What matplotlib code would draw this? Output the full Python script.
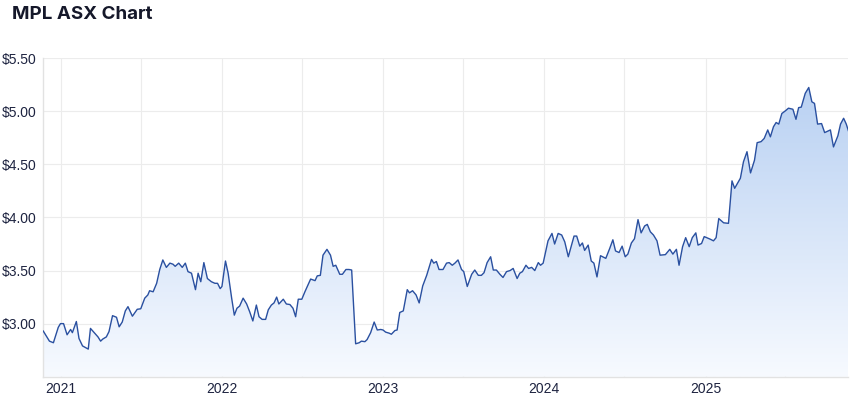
import numpy as np
import pandas as pd
import matplotlib
matplotlib.use('Agg')
import matplotlib.pyplot as plt
import matplotlib.dates as mdates
from matplotlib.colors import LinearSegmentedColormap

# weekly-ish closes
dates = [
    "2020-11-22", "2020-12-06", "2020-12-15", "2020-12-26", "2020-12-31", "2021-01-07",
    "2021-01-15", "2021-01-23", "2021-01-27", "2021-02-05", "2021-02-11", "2021-02-19",
    "2021-03-04", "2021-03-09", "2021-03-26", "2021-04-01", "2021-04-06", "2021-04-14",
    "2021-04-20", "2021-04-28", "2021-05-07", "2021-05-13", "2021-05-20", "2021-05-27",
    "2021-06-02", "2021-06-12", "2021-06-23", "2021-07-01", "2021-07-10", "2021-07-17",
    "2021-07-21", "2021-07-29", "2021-08-06", "2021-08-13", "2021-08-20", "2021-08-28",
    "2021-09-05", "2021-09-12", "2021-09-17", "2021-09-25", "2021-10-03", "2021-10-10",
    "2021-10-16", "2021-10-24", "2021-11-02", "2021-11-08", "2021-11-14", "2021-11-21",
    "2021-11-29", "2021-12-08", "2021-12-16", "2021-12-22", "2021-12-28", "2022-01-01",
    "2022-01-09", "2022-01-15", "2022-01-23", "2022-01-29", "2022-02-04", "2022-02-10",
    "2022-02-18", "2022-02-26", "2022-03-05", "2022-03-12", "2022-03-20", "2022-03-26",
    "2022-04-02", "2022-04-10", "2022-04-16", "2022-04-23", "2022-04-29", "2022-05-05",
    "2022-05-10", "2022-05-20", "2022-05-27", "2022-06-04", "2022-06-11", "2022-06-17",
    "2022-06-23", "2022-07-01", "2022-07-08", "2022-07-21", "2022-07-31", "2022-08-05",
    "2022-08-12", "2022-08-18", "2022-08-27", "2022-09-04", "2022-09-10", "2022-09-16",
    "2022-09-25", "2022-10-01", "2022-10-09", "2022-10-16", "2022-10-22", "2022-10-31",
    "2022-11-08", "2022-11-13", "2022-11-21", "2022-11-26", "2022-12-04", "2022-12-12",
    "2022-12-19", "2022-12-27", "2023-01-01", "2023-01-07", "2023-01-15", "2023-01-20",
    "2023-01-28", "2023-02-02", "2023-02-08", "2023-02-16", "2023-02-25", "2023-03-02",
    "2023-03-09", "2023-03-17", "2023-03-24", "2023-04-01", "2023-04-10", "2023-04-21",
    "2023-04-26", "2023-05-02", "2023-05-08", "2023-05-17", "2023-05-25", "2023-05-31",
    "2023-06-07", "2023-06-13", "2023-06-20", "2023-06-28", "2023-07-03", "2023-07-11",
    "2023-07-21", "2023-07-28", "2023-08-05", "2023-08-12", "2023-08-18", "2023-08-25",
    "2023-09-02", "2023-09-08", "2023-09-15", "2023-09-23", "2023-09-30", "2023-10-08",
    "2023-10-16", "2023-10-23", "2023-11-01", "2023-11-07", "2023-11-13", "2023-11-21",
    "2023-11-27", "2023-12-04", "2023-12-11", "2023-12-19", "2023-12-24", "2023-12-30",
    "2024-01-10", "2024-01-19", "2024-01-25", "2024-02-02", "2024-02-10", "2024-02-17",
    "2024-02-25", "2024-03-09", "2024-03-15", "2024-03-22", "2024-03-28", "2024-04-02",
    "2024-04-10", "2024-04-17", "2024-04-23", "2024-04-30", "2024-05-08", "2024-05-20",
    "2024-05-29", "2024-06-05", "2024-06-11", "2024-06-19", "2024-06-26", "2024-07-03",
    "2024-07-09", "2024-07-17", "2024-07-24", "2024-08-01", "2024-08-08", "2024-08-16",
    "2024-08-22", "2024-08-29", "2024-09-05", "2024-09-13", "2024-09-20", "2024-10-02",
    "2024-10-12", "2024-10-19", "2024-10-27", "2024-11-02", "2024-11-10", "2024-11-17",
    "2024-11-25", "2024-12-02", "2024-12-10", "2024-12-15", "2024-12-23", "2024-12-29",
    "2025-01-12", "2025-01-19", "2025-01-25", "2025-01-31", "2025-02-11", "2025-02-22",
    "2025-03-02", "2025-03-08", "2025-03-21", "2025-03-28", "2025-04-05", "2025-04-13",
    "2025-04-22", "2025-04-28", "2025-05-07", "2025-05-14", "2025-05-22", "2025-05-28",
    "2025-06-04", "2025-06-10", "2025-06-16", "2025-06-23", "2025-07-01", "2025-07-08",
    "2025-07-18", "2025-07-25", "2025-07-31", "2025-08-06", "2025-08-15", "2025-08-23",
    "2025-08-30", "2025-09-05", "2025-09-12", "2025-09-21", "2025-09-28", "2025-10-11",
    "2025-10-18", "2025-10-28", "2025-11-03", "2025-11-10", "2025-11-16", "2025-11-21",
]
prices = [
    2.93, 2.835, 2.82, 2.965, 3.00, 3.00,
    2.895, 2.945, 2.915, 3.02, 2.86, 2.79,
    2.76, 2.955, 2.875, 2.835, 2.855, 2.875,
    2.925, 3.075, 3.06, 2.97, 3.015, 3.12,
    3.16, 3.07, 3.135, 3.14, 3.24, 3.27,
    3.31, 3.30, 3.38, 3.51, 3.60, 3.53,
    3.57, 3.56, 3.54, 3.57, 3.53, 3.57,
    3.49, 3.475, 3.32, 3.475, 3.395, 3.575,
    3.425, 3.395, 3.38, 3.38, 3.33, 3.35,
    3.59, 3.475, 3.24, 3.08, 3.145, 3.165,
    3.24, 3.185, 3.11, 3.025, 3.175, 3.065,
    3.04, 3.04, 3.13, 3.175, 3.195, 3.25,
    3.185, 3.23, 3.185, 3.18, 3.145, 3.065,
    3.23, 3.23, 3.30, 3.42, 3.405, 3.45,
    3.455, 3.645, 3.70, 3.645, 3.54, 3.55,
    3.465, 3.465, 3.51, 3.51, 3.505, 2.81,
    2.82, 2.835, 2.83, 2.85, 2.915, 3.015,
    2.94, 2.945, 2.94, 2.92, 2.91, 2.90,
    2.935, 2.94, 3.105, 3.12, 3.32, 3.29,
    3.31, 3.27, 3.195, 3.355, 3.455, 3.605,
    3.57, 3.585, 3.51, 3.51, 3.57, 3.575,
    3.55, 3.57, 3.60, 3.51, 3.49, 3.35,
    3.465, 3.505, 3.455, 3.455, 3.48, 3.575,
    3.63, 3.505, 3.505, 3.465, 3.435, 3.49,
    3.50, 3.52, 3.425, 3.475, 3.49, 3.55,
    3.52, 3.53, 3.50, 3.575, 3.55, 3.57,
    3.78, 3.85, 3.75, 3.85, 3.835, 3.77,
    3.63, 3.825, 3.825, 3.73, 3.76, 3.69,
    3.74, 3.59, 3.57, 3.44, 3.64, 3.615,
    3.71, 3.79, 3.685, 3.67, 3.73, 3.63,
    3.655, 3.76, 3.80, 3.98, 3.855, 3.92,
    3.935, 3.865, 3.835, 3.78, 3.645, 3.65,
    3.70, 3.655, 3.70, 3.55, 3.725, 3.81,
    3.725, 3.81, 3.855, 3.74, 3.755, 3.82,
    3.795, 3.78, 3.81, 3.99, 3.95, 3.945,
    4.345, 4.275, 4.37, 4.525, 4.62, 4.42,
    4.54, 4.705, 4.715, 4.745, 4.825, 4.76,
    4.855, 4.895, 4.88, 4.98, 5.005, 5.03,
    5.02, 4.925, 5.035, 5.04, 5.17, 5.225,
    5.09, 5.075, 4.88, 4.885, 4.80, 4.825,
    4.665, 4.77, 4.88, 4.935, 4.88, 4.815,
]

x = pd.to_datetime(dates)
y = np.array(prices)

line_color = '#2a50a0'
text_color = '#1d2340'
grid_color = '#ececec'

fig = plt.figure(figsize=(8.6, 3.99), dpi=100)
ax = fig.add_axes([0.0503, 0.0559, 0.9363, 0.798])

ax.set_ylim(2.5, 5.5)
ax.set_xlim(x[0], x[-1])

# gradient fill under the line, clipped to the area
poly = ax.fill_between(x, y, 2.5, facecolor='none', edgecolor='none')
cmap = LinearSegmentedColormap.from_list('fill', ['#f7faff', '#b3cdf1'])
grad = np.linspace(0, 1, 256).reshape(-1, 1)
xl = mdates.date2num(x)
img = ax.imshow(grad, cmap=cmap, aspect='auto', origin='lower',
                extent=[xl[0], xl[-1], 2.5, 5.5], zorder=1)
path = poly.get_paths()[0]
img.set_clip_path(path, transform=ax.transData)

ax.plot(x, y, color=line_color, lw=1.0, zorder=3)

ax.set_yticks([3.0, 3.5, 4.0, 4.5, 5.0, 5.5])
ax.set_yticklabels([f"${v:.2f}" for v in [3.0, 3.5, 4.0, 4.5, 5.0, 5.5]])
ax.xaxis.set_major_locator(mdates.YearLocator())
ax.xaxis.set_major_formatter(mdates.DateFormatter('%Y'))
ax.xaxis.set_minor_locator(mdates.MonthLocator(bymonth=7))

ax.grid(True, which='both', color=grid_color, lw=0.8, zorder=0)
ax.set_axisbelow(True)
ax.tick_params(axis='both', which='both', length=0, labelsize=10,
               labelcolor=text_color)
ax.tick_params(axis='y', pad=5)
ax.tick_params(axis='x', pad=4)
for lab in ax.get_xticklabels() + ax.get_yticklabels():
    lab.set_fontfamily('Liberation Sans')

for side in ['top', 'right']:
    ax.spines[side].set_visible(False)
for side in ['left', 'bottom']:
    ax.spines[side].set_color('#e2e2e2')
    ax.spines[side].set_linewidth(1.0)

fig.text(0.014, 0.963, 'MPL ASX Chart', fontsize=13.5, fontweight='bold',
         fontfamily='Inter', color='#15182a', va='center', ha='left')

fig.savefig('out.png', dpi=100)
